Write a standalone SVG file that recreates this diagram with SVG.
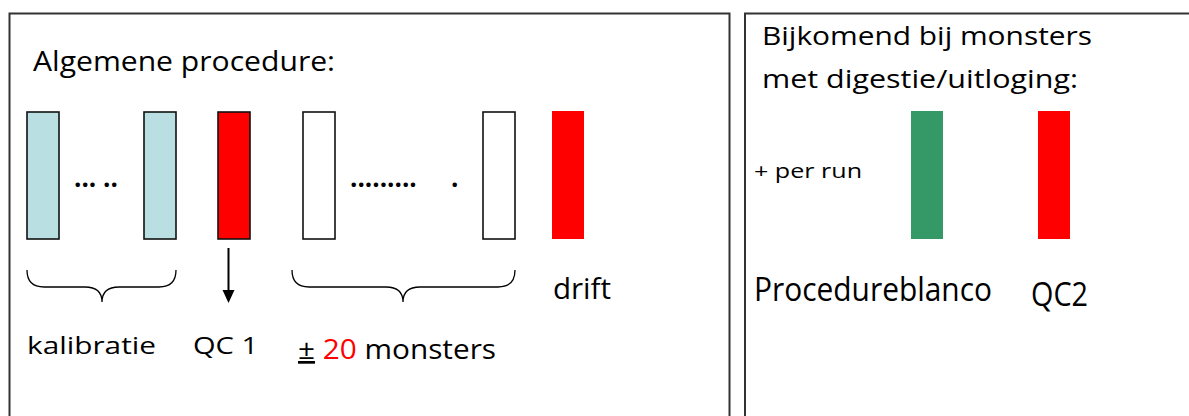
<svg xmlns="http://www.w3.org/2000/svg" width="1189" height="416" viewBox="0 0 1189 416">
<style>
.t{font-family:"Open Sans","Noto Sans","Liberation Sans",sans-serif;fill:#000}
.box{fill:none;stroke:#333;stroke-width:2}
.cell{stroke:#111;stroke-width:1.6}
.brace{fill:none;stroke:#000;stroke-width:1.3}
</style>
<rect width="1189" height="416" fill="#fff"/>
<g id="panel-left">
<rect class="box" x="9.5" y="13.5" width="720" height="430"/>
<text class="t" x="33" y="71" font-size="28" textLength="302" lengthAdjust="spacingAndGlyphs">Algemene procedure:</text>
</g>
<g id="panel-right">
<rect class="box" x="745" y="13.5" width="460" height="430"/>
<text class="t" x="762" y="45" font-size="26" textLength="330" lengthAdjust="spacingAndGlyphs">Bijkomend bij monsters</text>
<text class="t" x="762" y="88" font-size="26" textLength="316" lengthAdjust="spacingAndGlyphs">met digestie/uitloging:</text>
<text class="t" x="754" y="178" font-size="20" textLength="108" lengthAdjust="spacingAndGlyphs">+ per run</text>
</g>
<g id="kalibratie">
<rect class="cell" x="27" y="112" width="32" height="127" fill="#b9dfe2"/>
<text class="t" x="74" y="187" font-size="26" font-weight="bold">... ..</text>
<rect class="cell" x="144" y="112" width="32" height="127" fill="#b9dfe2"/>
<text class="t" x="27" y="354" font-size="24" textLength="129" lengthAdjust="spacingAndGlyphs">kalibratie</text>
</g>
<g id="qc1">
<rect class="cell" x="218" y="112" width="32" height="127" fill="#ff0000"/>
<text class="t" x="193" y="354" font-size="24" textLength="65" lengthAdjust="spacingAndGlyphs">QC 1</text>
</g>
<g id="monsters">
<rect class="cell" x="303" y="112" width="32" height="127" fill="#fff"/>
<text class="t" x="350" y="187" font-size="26" font-weight="bold">.........</text>
<text class="t" x="451" y="187" font-size="26" font-weight="bold">.</text>
<rect class="cell" x="483" y="112" width="32" height="127" fill="#fff"/>
<text class="t" x="298" y="359" font-size="27" textLength="198" lengthAdjust="spacingAndGlyphs"><tspan text-decoration="underline">±</tspan> <tspan fill="#ff0000">20</tspan> monsters</text>
</g>
<g id="drift">
<rect x="552" y="111" width="32" height="128" fill="#ff0000"/>
<text class="t" x="553" y="299" font-size="29" textLength="58" lengthAdjust="spacingAndGlyphs">drift</text>
</g>
<g id="procedureblanco">
<rect x="911" y="111" width="32" height="128" fill="#349966"/>
<text class="t" x="754" y="301" font-size="32" textLength="238" lengthAdjust="spacingAndGlyphs">Procedureblanco</text>
</g>
<g id="qc2">
<rect x="1038" y="111" width="32" height="128" fill="#ff0000"/>
<text class="t" x="1031" y="306" font-size="32" textLength="57" lengthAdjust="spacingAndGlyphs">QC2</text>
</g>
<g id="connectors">
<path class="brace" d="M27,270 Q27,287 44,287 L85,287 Q102,287 102,302 Q102,287 119,287 L159,287 Q176,287 176,270"/>
<path class="brace" d="M292,270 Q292,287 309,287 L386,287 Q403,287 403,302 Q403,287 420,287 L498,287 Q515,287 515,270"/>
<line x1="228.5" y1="248" x2="228.5" y2="292" stroke="#000" stroke-width="2"/>
<polygon points="222.5,290 234.5,290 228.5,303" fill="#000"/>
</g>
</svg>
